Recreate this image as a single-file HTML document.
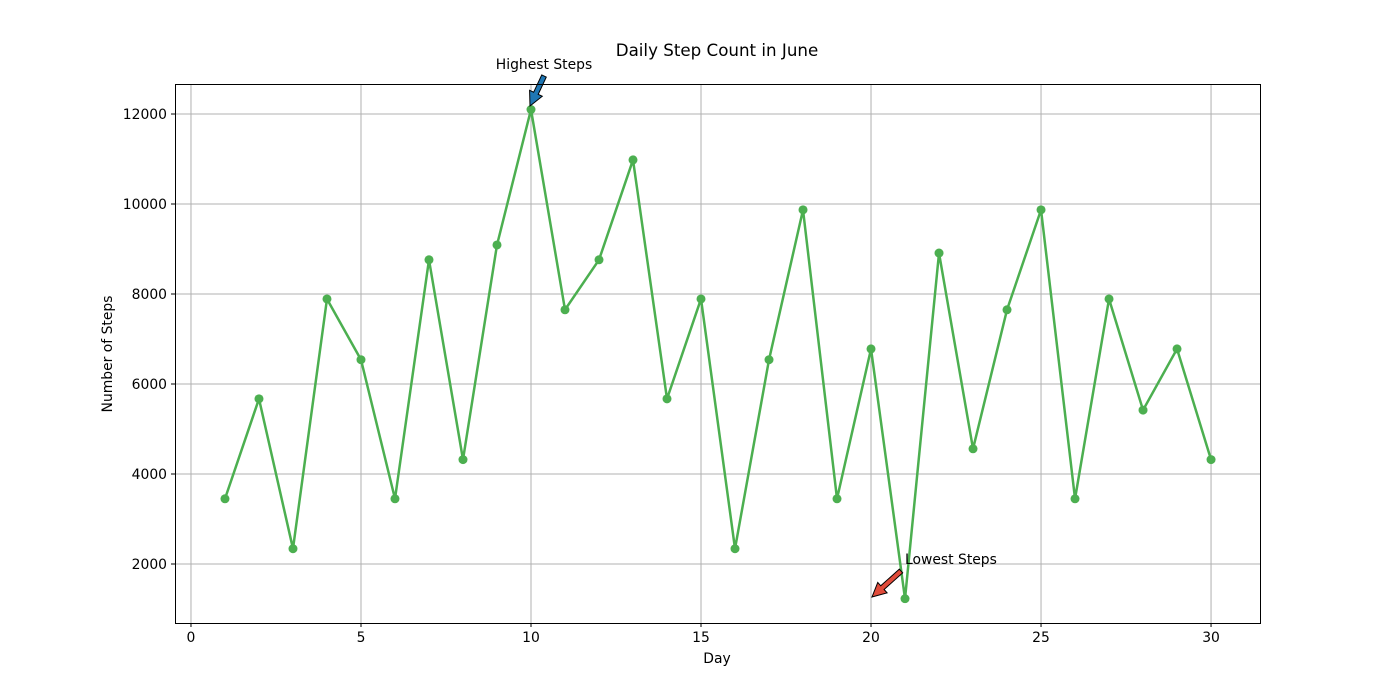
<!DOCTYPE html>
<html><head><meta charset="utf-8"><style>
body{margin:0;background:#fff}
svg{display:block;font-family:"DejaVu Sans","Liberation Sans",sans-serif}
</style></head><body>
<svg id="chart" width="1400" height="700">
<text x="717" y="56" text-anchor="middle" font-size="16.7">Daily Step Count in June</text>
<g id="grid"></g><g id="ticks"></g><g id="series"></g><g id="ann"></g>
<rect x="175.5" y="84.5" width="1085" height="539" fill="none" stroke="#000" stroke-width="1"/>
<text x="717" y="663" text-anchor="middle" font-size="13.9">Day</text>
<text transform="translate(112,354) rotate(-90)" text-anchor="middle" font-size="13.9">Number of Steps</text>
</svg>
<script>
const days=[1,2,3,4,5,6,7,8,9,10,11,12,13,14,15,16,17,18,19,20,21,22,23,24,25,26,27,28,29,30];
const steps=[3450,5670,2340,7890,6540,3450,8760,4320,9090,12100,7650,8760,10980,5670,7890,2340,6540,9870,3450,6780,1230,8910,4560,7650,9870,3450,7890,5420,6780,4320];
const xTicks=[0,5,10,15,20,25,30];
const yTicks=[2000,4000,6000,8000,10000,12000];
const X0=175,X1=1260,Y0=623,Y1=84;
const xmin=-0.47,xmax=31.44,ymin=689,ymax=12667;
const sx=v=>X0+(v-xmin)/(xmax-xmin)*(X1-X0);
const sy=v=>Y0-(v-ymin)/(ymax-ymin)*(Y0-Y1);
const NS="http://www.w3.org/2000/svg";
function mk(t,a,p){const e=document.createElementNS(NS,t);for(const k in a)e.setAttribute(k,a[k]);p.appendChild(e);return e;}
const grid=document.getElementById('grid'),ticks=document.getElementById('ticks');
xTicks.forEach(t=>{const x=sx(t);
const g=mk('line',{x1:x,x2:x,y1:Y1,y2:Y0,stroke:'#b0b0b0','stroke-width':1},grid);


mk('line',{x1:x,x2:x,y1:Y0,y2:Y0+4,stroke:'#000'},ticks);
const l=mk('text',{x:x,y:Y0+19,'text-anchor':'middle','font-size':13.9},ticks);l.textContent=t;

});
yTicks.forEach(t=>{const y=sy(t);
const g=mk('line',{x1:X0,x2:X1,y1:y,y2:y,stroke:'#b0b0b0','stroke-width':1},grid);


mk('line',{x1:X0-4,x2:X0,y1:y,y2:y,stroke:'#000'},ticks);
const l=mk('text',{x:X0-8,y:y+5,'text-anchor':'end','font-size':13.9},ticks);l.textContent=t;

});
const ser=document.getElementById('series');
const pl=mk('polyline',{points:days.map((d,i)=>sx(d)+','+sy(steps[i])).join(' '),fill:'none',stroke:'#4caf50','stroke-width':2.5},ser);


days.forEach((d,i)=>{const c=mk('circle',{cx:sx(d),cy:sy(steps[i]),r:4.5,fill:'#4caf50'},ser);

});
const ann=document.getElementById('ann');
function arrow(x0,y0,x1,y1,col,name){const dx=x1-x0,dy=y1-y0,L=Math.hypot(dx,dy),ux=dx/L,uy=dy/L,px=-uy,py=ux;
const hl=14,hw=7,w=2.5,bx=x1-ux*hl,by=y1-uy*hl;
const pts=[[x0+px*w,y0+py*w],[bx+px*w,by+py*w],[bx+px*hw,by+py*hw],[x1,y1],[bx-px*hw,by-py*hw],[bx-px*w,by-py*w],[x0-px*w,y0-py*w]];
const p=mk('polygon',{points:pts.map(q=>q.join(',')).join(' '),fill:col,stroke:'#000','stroke-width':1},ann);

}
arrow(544,76,530,106,'#1f77b4','highest-arrow');
arrow(901,571,872,597,'#e04b3a','lowest-arrow');
let t=mk('text',{x:544,y:69,'text-anchor':'middle','font-size':13.9},ann);t.textContent='Highest Steps';


t=mk('text',{x:905,y:564,'font-size':13.9},ann);t.textContent='Lowest Steps';


</script>
</body></html>
